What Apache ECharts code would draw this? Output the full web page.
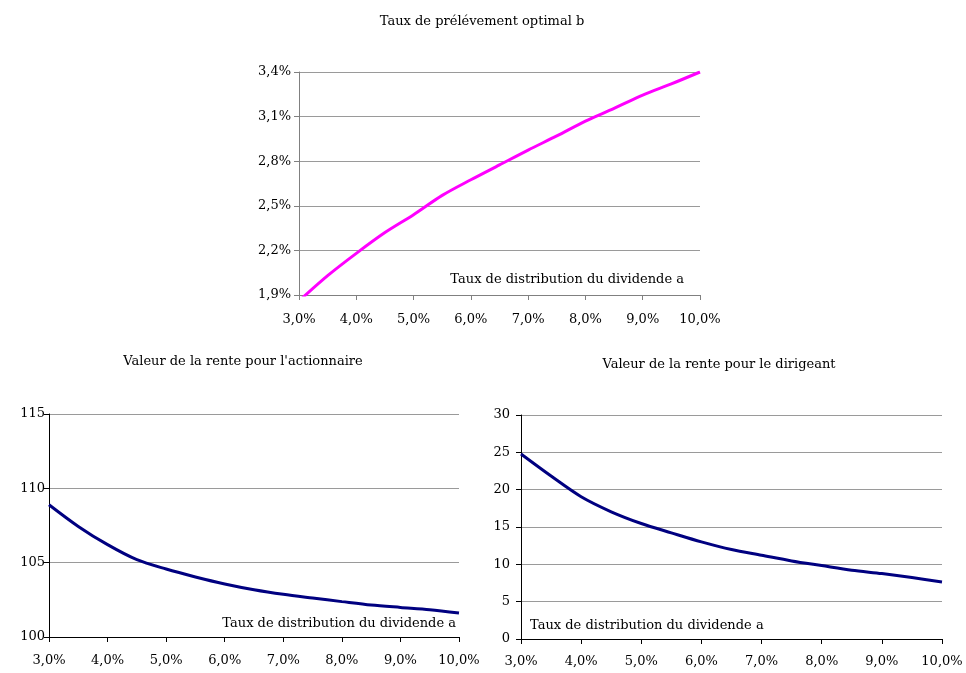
<!DOCTYPE html>
<html><head><meta charset="utf-8">
<script src="https://cdn.jsdelivr.net/npm/echarts@6/dist/echarts.min.js"></script>
<style>html,body{margin:0;padding:0;background:#fff}#c{width:966px;height:673px}</style>
</head><body><div id="c"></div>
<script>
// Taux de distribution du dividende a (%)
const dividendRate = [3.0, 3.5, 4.0, 4.5, 5.0, 5.5, 6.0, 6.5, 7.0, 7.5, 8.0, 8.5, 9.0, 9.5, 10.0];
// Taux de prélévement optimal b (%)
const optimalB = [1.86, 2.03, 2.18, 2.32, 2.44, 2.57, 2.675, 2.775, 2.875, 2.97, 3.07, 3.155, 3.245, 3.32, 3.40];
// Valeur de la rente pour l'actionnaire
const renteActionnaire = [108.9, 107.44, 106.21, 105.2, 104.57, 104.04, 103.57, 103.18, 102.87, 102.62, 102.38, 102.15, 101.99, 101.84, 101.61];
// Valeur de la rente pour le dirigeant
const renteDirigeant = [24.77, 21.82, 19.05, 17.04, 15.47, 14.22, 13.01, 11.98, 11.22, 10.46, 9.83, 9.21, 8.76, 8.23, 7.64];

const titles = ["Taux de prélévement optimal b", "Valeur de la rente pour l'actionnaire", "Valeur de la rente pour le dirigeant"];
const xAxisName = "Taux de distribution du dividende a";
const bMin = 1.9, bMax = 3.4, bStep = 0.3;

const font = "'DejaVu Serif', serif";
const pct = v => v.toFixed(1).replace('.', ',') + '%';

function xAxis(gi, axisColor, margin) {
  return {
    type: 'value', gridIndex: gi, min: 3, max: 10, interval: 1,
    axisLine: {show: true, onZero: false, lineStyle: {color: axisColor, width: 1}},
    axisTick: {show: true, inside: false, length: 5, lineStyle: {color: axisColor}},
    splitLine: {show: false},
    axisLabel: {formatter: pct, color: '#000', fontFamily: font, fontSize: 13, margin}
  };
}
function yAxis(gi, min, max, interval, fmt, axisColor, margin) {
  return {
    type: 'value', gridIndex: gi, min, max, interval,
    axisLine: {show: true, lineStyle: {color: axisColor, width: 1}},
    axisTick: {show: true, length: 5, lineStyle: {color: axisColor}},
    splitLine: {show: true, lineStyle: {color: '#9a9a9a', width: 1}},
    axisLabel: {formatter: fmt, color: '#000', fontFamily: font, fontSize: 13, margin}
  };
}

const chart = echarts.init(document.getElementById('c'), null, {renderer: 'canvas'});
chart.setOption({
  animation: false,
  backgroundColor: '#fff',
  title: [
    {text: titles[0], left: 477, top: 10, textAlign: 'center', textStyle: {fontFamily: font, fontSize: 13, fontWeight: 'normal', color: '#000'}},
    {text: titles[1], left: 238, top: 350, textAlign: 'center', textStyle: {fontFamily: font, fontSize: 13, fontWeight: 'normal', color: '#000'}},
    {text: titles[2], left: 714, top: 353, textAlign: 'center', textStyle: {fontFamily: font, fontSize: 13, fontWeight: 'normal', color: '#000'}}
  ],
  grid: [
    {left: 299, top: 72, width: 401, height: 223},
    {left: 49, top: 414, width: 410, height: 223},
    {left: 521, top: 415, width: 421, height: 224}
  ],
  xAxis: [xAxis(0, '#808080', 18), xAxis(1, '#000', 17), xAxis(2, '#000', 16)],
  yAxis: [
    yAxis(0, 0, bMax - bMin, bStep, v => pct(v + bMin), '#808080', 8),
    yAxis(1, 100, 115, 5, v => String(v), '#000', 4),
    yAxis(2, 0, 30, 5, v => String(v), '#000', 11)
  ],
  graphic: [
    {type: 'text', right: 966 - 684, top: 273, style: {text: xAxisName, font: '13px ' + font, fill: '#000'}},
    {type: 'text', right: 966 - 456, top: 617, style: {text: xAxisName, font: '13px ' + font, fill: '#000'}},
    {type: 'text', left: 530, top: 619, style: {text: xAxisName, font: '13px ' + font, fill: '#000'}}
  ],
  series: [
    {type: 'line', xAxisIndex: 0, yAxisIndex: 0, smooth: 0.3, symbol: 'none', clip: true,
     lineStyle: {color: '#FF00FF', width: 3}, data: dividendRate.map((x, i) => [x, optimalB[i] - bMin])},
    {type: 'line', xAxisIndex: 1, yAxisIndex: 1, smooth: 0.3, symbol: 'none', clip: true,
     lineStyle: {color: '#000080', width: 3}, data: dividendRate.map((x, i) => [x, renteActionnaire[i]])},
    {type: 'line', xAxisIndex: 2, yAxisIndex: 2, smooth: 0.3, symbol: 'none', clip: true,
     lineStyle: {color: '#000080', width: 3}, data: dividendRate.map((x, i) => [x, renteDirigeant[i]])}
  ]
});
</script>
</body></html>
